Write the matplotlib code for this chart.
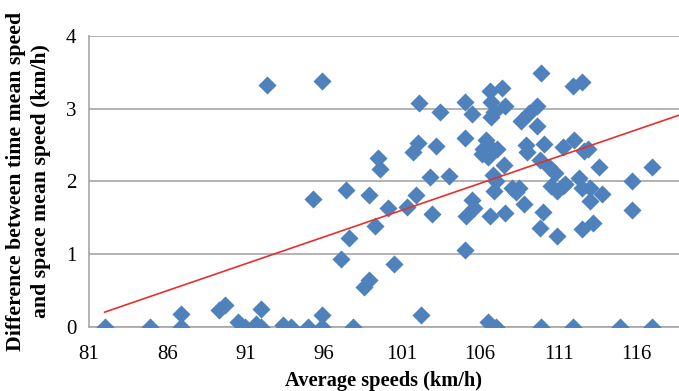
import numpy as np
import matplotlib.pyplot as plt

plt.rcParams['font.family'] = ['Liberation Serif', 'DejaVu Serif']

# average speed (km/h) vs difference between time mean and space mean speed (km/h)
avg_speed = [
    82.0, 84.9, 86.9, 86.9, 89.3, 89.7, 90.5, 91.0, 91.7, 92.0, 92.0, 93.4,
    93.9, 95.0, 95.9, 95.9, 97.9, 102.2, 106.5, 107.0, 109.9, 111.9, 114.9, 117.0,
    97.1, 100.5, 98.9, 98.6, 97.6, 99.3, 100.1, 101.3, 101.9, 102.9, 95.3, 97.4,
    98.9, 105.0, 105.1, 105.5, 105.6, 106.6, 107.6, 108.8, 110.0, 109.8, 110.9, 113.0,
    112.5, 113.2, 115.7, 113.8,
    92.4, 95.9, 102.1, 103.4, 102.0, 101.7, 103.2, 99.5, 99.6, 102.8, 104.0,
    109.9, 106.6, 107.4, 105.0, 106.7, 107.6, 105.5, 106.9, 106.7, 109.6, 109.1,
    108.6, 109.6, 105.0, 106.4, 106.2, 106.7, 107.1, 106.1, 106.5, 107.5, 106.8,
    108.9, 109.0, 110.1, 111.3, 109.8, 110.4, 110.8, 107.0, 106.9, 108.0, 108.3,
    108.5, 110.5, 110.9, 111.4, 111.9, 112.5, 112.0, 112.6, 112.9, 113.6, 117.0,
    115.7, 111.3, 112.3, 112.5, 113.0,
]
speed_diff = [
    0.00, 0.00, 0.00, 0.18, 0.23, 0.30, 0.06, 0.00, 0.04, 0.24, 0.00, 0.02,
    0.00, 0.00, 0.00, 0.16, 0.00, 0.16, 0.06, 0.00, 0.00, 0.00, 0.00, 0.00,
    0.93, 0.86, 0.64, 0.54, 1.22, 1.39, 1.63, 1.65, 1.81, 1.55, 1.75, 1.88,
    1.81, 1.05, 1.52, 1.74, 1.63, 1.52, 1.57, 1.69, 1.58, 1.36, 1.25, 1.73,
    1.34, 1.42, 1.60, 1.83,
    3.32, 3.38, 3.08, 2.95, 2.53, 2.41, 2.49, 2.32, 2.17, 2.06, 2.08,
    3.49, 3.24, 3.28, 3.09, 3.09, 3.03, 2.92, 2.96, 2.88, 3.04, 2.94,
    2.83, 2.76, 2.60, 2.57, 2.44, 2.46, 2.44, 2.37, 2.34, 2.23, 2.09,
    2.50, 2.41, 2.51, 2.47, 2.30, 2.20, 2.12, 2.00, 1.87, 1.91, 1.85,
    1.91, 1.93, 1.87, 1.97, 3.31, 3.37, 2.57, 2.42, 2.44, 2.20, 2.20,
    2.00, 1.94, 2.04, 1.91, 1.91,
]
# linear trend line as drawn in the source chart
trend_speed = [82.0, 121.0]
trend_diff = [0.20, 3.08]

x_ticks = [81, 86, 91, 96, 101, 106, 111, 116]
y_ticks = [0, 1, 2, 3, 4]

fig = plt.figure(figsize=(6.79, 3.91), dpi=100)
ax = fig.add_axes([0.131, 0.1645, 0.869, 0.7435])

ax.set_xlim(81, 118.7)
ax.set_ylim(0, 4)
ax.set_xticks(x_ticks)
ax.set_yticks(y_ticks)

ax.yaxis.grid(True, color='#a6a6a6', linewidth=1.2)
ax.set_axisbelow(True)
for s in ['top', 'right']:
    ax.spines[s].set_visible(False)
for s in ['left', 'bottom']:
    ax.spines[s].set_color('#a6a6a6')
    ax.spines[s].set_linewidth(1.2)
ax.tick_params(length=0, labelsize=15)
ax.tick_params(axis='x', pad=13)
ax.tick_params(axis='y', pad=9)

ax.scatter(avg_speed, speed_diff, marker='D', s=85, color='#4f81bd',
           zorder=3, linewidths=0)

ax.plot(trend_speed, trend_diff, color='#e8302a', linewidth=1.2, zorder=4)

ax.set_xlabel('Average speeds (km/h)', fontsize=14.7, fontweight='bold', labelpad=5)
ax.set_ylabel('Difference between time mean speed\nand space mean speed (km/h)',
              fontsize=15.7, fontweight='bold', labelpad=11, linespacing=1.3)

fig.savefig('out.png', dpi=100)
